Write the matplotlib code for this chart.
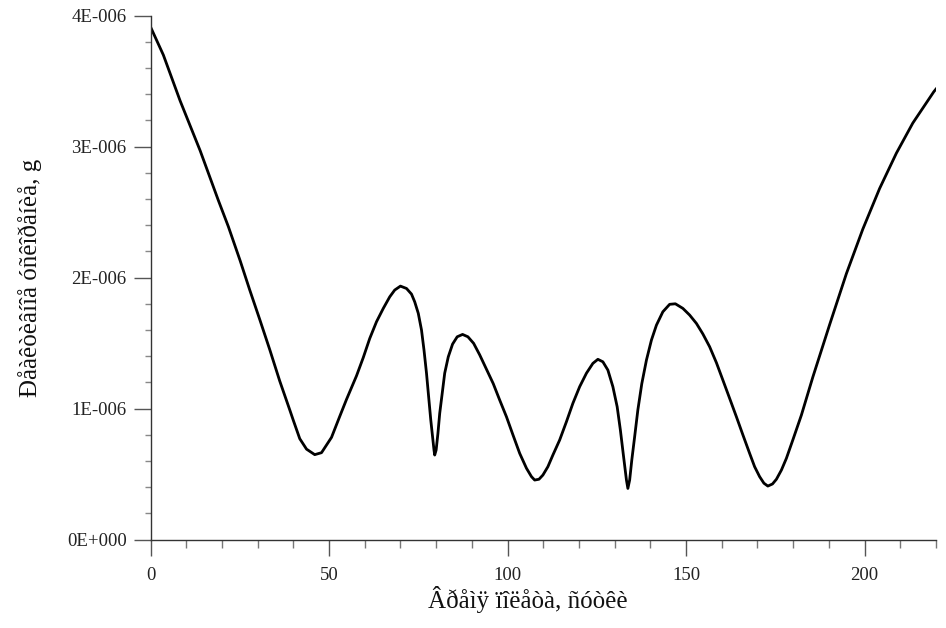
import matplotlib
matplotlib.use("Agg")
import matplotlib.pyplot as plt
from matplotlib.ticker import MultipleLocator, FixedLocator, FixedFormatter

# Data (x: days, y: acceleration in units of 1e-6 g)
days = [0, 3.6, 8.3, 13.9, 19.0, 21.8, 25.1, 27.8, 30.6, 33.4, 36.2, 39.0, 40.0,
        41.8, 43.7, 46.0, 47.9, 50.7, 53.0, 54.9, 57.7, 59.6, 61.4, 63.3, 65.2,
        67.0, 68.4, 70.0, 71.7, 73.1, 74.0, 75.0, 75.9, 76.6, 77.3, 77.9, 78.5,
        79.0, 79.4, 79.6, 80.0, 80.5, 81.0, 81.7, 82.4, 83.4, 84.6, 85.9, 87.4,
        88.9, 90.5, 92.2, 94.1, 96.0, 97.8, 99.7, 101.5, 103.4, 105.3, 106.7,
        107.6, 108.8, 109.9, 111.3, 112.7, 114.6, 116.5, 118.3, 120.2, 122.1,
        123.9, 125.3, 126.7, 128.1, 129.5, 130.7, 131.6, 132.5, 133.3, 133.7,
        134.2, 134.8, 135.6, 136.5, 137.6, 138.9, 140.3, 141.7, 143.5, 145.4,
        147.0, 149.1, 151.0, 152.9, 154.7, 156.6, 158.5, 160.3, 162.2, 164.1,
        165.9, 167.8, 169.2, 170.6, 171.8, 172.9, 174.2, 175.3, 176.7, 178.1,
        179.9, 182.3, 185.5, 190.2, 194.9, 199.5, 204.2, 208.9, 213.5, 219.4, 220.0]
accel = [3.915, 3.70, 3.35, 2.97, 2.59, 2.39, 2.13, 1.905, 1.68, 1.45, 1.21, 0.99, 0.91,
         0.77, 0.69, 0.648, 0.663, 0.78, 0.94, 1.07, 1.25, 1.39, 1.535, 1.663, 1.765,
         1.853, 1.905, 1.935, 1.917, 1.874, 1.815, 1.727, 1.60, 1.447, 1.27, 1.09, 0.912,
         0.785, 0.683, 0.645, 0.683, 0.81, 0.963, 1.116, 1.27, 1.395, 1.492, 1.548, 1.566,
         1.548, 1.498, 1.41, 1.30, 1.19, 1.065, 0.937, 0.80, 0.658, 0.544, 0.48,
         0.454, 0.46, 0.492, 0.556, 0.645, 0.76, 0.90, 1.04, 1.167, 1.27,
         1.345, 1.376, 1.357, 1.294, 1.167, 1.014, 0.836, 0.632, 0.454, 0.39,
         0.454, 0.607, 0.785, 0.99, 1.19, 1.37, 1.523, 1.637, 1.739, 1.796,
         1.80, 1.765, 1.714, 1.65, 1.57, 1.472, 1.35, 1.218, 1.078, 0.937,
         0.80, 0.658, 0.556, 0.48, 0.43, 0.408, 0.424, 0.46, 0.53, 0.62,
         0.76, 0.95, 1.24, 1.64, 2.03, 2.37, 2.68, 2.95, 3.18, 3.42, 3.44]

y_ticks = [0, 1, 2, 3, 4]
y_tick_labels = ["0E+000", "1E-006", "2E-006", "3E-006", "4E-006"]
x_ticks = [0, 50, 100, 150, 200]
x_tick_labels = ["0", "50", "100", "150", "200"]
x_label = "Âðåìÿ ïîëåòà, ñóòêè"
y_label = "Ðåàêòèâíîå óñêîðåíèå, g"

plt.rcParams['font.family'] = ['Liberation Serif', 'DejaVu Serif']

fig = plt.figure(figsize=(9.46, 6.28), dpi=100)
ax = fig.add_axes([150.5 / 946, (628 - 539.5) / 628, 785.5 / 946, 523.8 / 628])

ax.plot(days, accel, color='black', linewidth=2.0, solid_joinstyle='round')

ax.set_xlim(0, 220)
ax.set_ylim(0, 4)

ax.xaxis.set_major_locator(FixedLocator(x_ticks))
ax.xaxis.set_major_formatter(FixedFormatter(x_tick_labels))
ax.xaxis.set_minor_locator(MultipleLocator(10))
ax.yaxis.set_major_locator(FixedLocator(y_ticks))
ax.yaxis.set_major_formatter(FixedFormatter(y_tick_labels))
ax.yaxis.set_minor_locator(MultipleLocator(0.2))

for s in ['top', 'right']:
    ax.spines[s].set_visible(False)
for s in ['left', 'bottom']:
    ax.spines[s].set_color('#333333')
    ax.spines[s].set_linewidth(1.0)

ax.tick_params(axis='x', which='major', direction='out', length=11.5, width=1.0,
               color='#555555', pad=8, labelsize=13.5, labelcolor='#222222')
ax.tick_params(axis='x', which='minor', direction='out', length=5.8, width=1.0,
               color='#777777')
ax.tick_params(axis='y', which='major', direction='out', length=12.2, width=1.0,
               color='#555555', pad=5, labelsize=13.5, labelcolor='#222222')
ax.tick_params(axis='y', which='minor', direction='out', length=4.3, width=1.0,
               color='#888888')

ax.set_xlabel(x_label, fontsize=18, color='#111111')
ax.xaxis.set_label_coords((527.5 - 150.5) / 785.5, -0.088)
ax.set_ylabel(y_label, fontsize=18, color='#111111')
ax.yaxis.set_label_coords((42 - 150.5) / 785.5, 0.5)

fig.savefig("out.png", dpi=100)
